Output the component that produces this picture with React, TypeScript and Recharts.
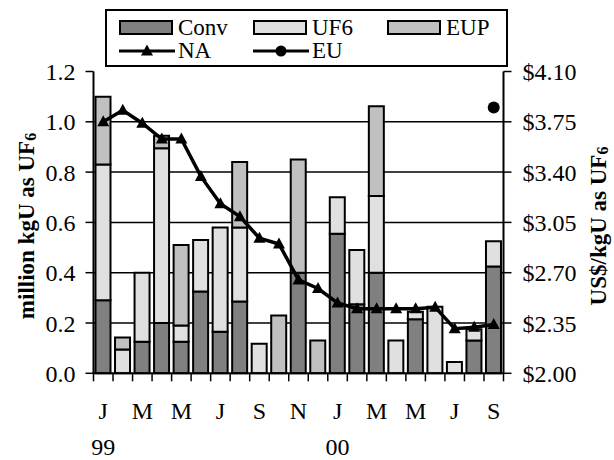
import React from "react";
import { Bar, ComposedChart, Legend, Line, XAxis, YAxis, CartesianGrid } from "recharts";

const categories = [
  "Jan 99", "Feb 99", "Mar 99", "Apr 99", "May 99", "Jun 99", "Jul 99",
  "Aug 99", "Sep 99", "Oct 99", "Nov 99", "Dec 99", "Jan 00", "Feb 00",
  "Mar 00", "Apr 00", "May 00", "Jun 00", "Jul 00", "Aug 00", "Sep 00",
];
const monthLabels = ["J", "", "M", "", "M", "", "J", "", "S", "", "N", "", "J", "", "M", "", "M", "", "J", "", "S"];
const yearLabels = ["99", "", "", "", "", "", "", "", "", "", "", "", "00", "", "", "", "", "", "", "", ""];

// million kgU as UF6
const conv = [0.29, 0, 0.125, 0.2, 0.125, 0.325, 0.165, 0.285, 0, 0, 0.4, 0, 0.555, 0.275, 0.4, 0, 0.215, 0, 0, 0.13, 0.425];
const uf6 = [0.54, 0.095, 0.275, 0.695, 0.065, 0.205, 0.415, 0.295, 0.117, 0, 0, 0, 0.145, 0.215, 0.305, 0.13, 0.03, 0.265, 0.045, 0.045, 0.1];
const eup = [0.27, 0.047, 0, 0.05, 0.32, 0, 0, 0.26, 0, 0.23, 0.45, 0.13, 0, 0, 0.357, 0, 0, 0, 0, 0, 0];

// US$/kgU as UF6
const naPrice = [3.75, 3.83, 3.74, 3.63, 3.63, 3.37, 3.18, 3.09, 2.94, 2.9, 2.65, 2.59, 2.49, 2.45, 2.45, 2.45, 2.45, 2.46, 2.31, 2.32, 2.34];
const euPrice = [null, null, null, null, null, null, null, null, null, null, null, null, null, null, null, null, null, null, null, null, 3.85];

const volumeTicks = [0, 0.2, 0.4, 0.6, 0.8, 1.0, 1.2];
const priceTicks = [2.0, 2.35, 2.7, 3.05, 3.4, 3.75, 4.1];
const gridValues = [0.2, 0.4, 0.6, 0.8, 1.0];
const legendOrder = ["conv", "uf6", "eup", "na", "eu"];

const data = categories.map((name, i) => ({
  name,
  conv: conv[i],
  uf6: uf6[i],
  eup: eup[i],
  na: naPrice[i],
  eu: euPrice[i],
}));

const FONT = "Liberation Serif, Times New Roman, serif";
const barKeys = ["conv", "uf6", "eup"];

// plot area: 93.5 .. 503.5 horizontally
const PLOT_WIDTH = 614 - 93.5 - 110.5;
const HALF_BAND = PLOT_WIDTH / categories.length / 2;

function TriangleDot(props: any) {
  const { cx, cy } = props;
  if (cx == null || cy == null) return null;
  return (
    <polygon
      points={`${cx},${cy - 6.5} ${cx - 6},${cy + 4.5} ${cx + 6},${cy + 4.5}`}
      fill="#000"
    />
  );
}

function MonthTick(props: any) {
  const { x, y, payload } = props;
  const i = payload.index;
  const last = i === categories.length - 1;
  return (
    <g>
      <line x1={x - HALF_BAND} y1={y} x2={x - HALF_BAND} y2={y + 8} stroke="#000" strokeWidth={1.5} />
      {last && (
        <line x1={x + HALF_BAND} y1={y} x2={x + HALF_BAND} y2={y + 8} stroke="#000" strokeWidth={1.5} />
      )}
      <text x={x} y={y + 46} textAnchor="middle" fontFamily={FONT} fontSize={24} fill="#000">
        {monthLabels[i]}
      </text>
      <text x={x} y={y + 82} textAnchor="middle" fontFamily={FONT} fontSize={24} fill="#000">
        {yearLabels[i]}
      </text>
    </g>
  );
}

function AxisTitle({ x, y, text }: { x: number; y: number; text: string }) {
  return (
    <text
      x={x}
      y={y}
      transform={`rotate(-90 ${x} ${y})`}
      textAnchor="middle"
      dominantBaseline="central"
      fontFamily={FONT}
      fontSize={23}
      fontWeight="bold"
      fill="#000"
    >
      {text}
      <tspan fontSize={16} dy={4}>6</tspan>
    </text>
  );
}

function LegendIcon({ entry }: { entry: any }) {
  if (barKeys.includes(entry.dataKey)) {
    return (
      <span
        style={{
          display: "inline-block",
          boxSizing: "border-box",
          width: 54,
          height: 15,
          background: entry.color,
          border: "2px solid #000",
          marginRight: 5,
        }}
      />
    );
  }
  return (
    <svg width={56} height={16} style={{ marginRight: 3 }}>
      <line x1={0} y1={8} x2={56} y2={8} stroke="#000" strokeWidth={3} />
      {entry.dataKey === "na" ? (
        <TriangleDot cx={28} cy={8} />
      ) : (
        <circle cx={28} cy={8} r={5.5} fill="#000" />
      )}
    </svg>
  );
}

function LegendBox(props: any) {
  const payload = [...(props.payload || [])].sort(
    (a: any, b: any) => legendOrder.indexOf(a.dataKey) - legendOrder.indexOf(b.dataKey),
  );
  return (
    <div
      style={{
        boxSizing: "border-box",
        width: 403,
        height: 58,
        border: "2px solid #000",
        padding: "5px 0 0 12px",
        display: "grid",
        gridTemplateColumns: "134px 134px 134px",
        gridAutoRows: "23px",
        fontFamily: FONT,
        fontSize: 23,
        lineHeight: "23px",
        color: "#000",
        background: "#fff",
      }}
    >
      {payload.map((entry: any) => (
        <div key={entry.dataKey} style={{ display: "flex", alignItems: "center", whiteSpace: "nowrap" }}>
          <LegendIcon entry={entry} />
          {entry.value}
        </div>
      ))}
    </div>
  );
}

export default function App() {
  return (
    <div style={{ position: "absolute", left: 0, top: 0, background: "#fff", fontFamily: FONT }}>
      <ComposedChart
        width={614}
        height={460}
        data={data}
        margin={{ top: 71.5, right: 0, bottom: 0, left: 0 }}
      >
        <CartesianGrid
          yAxisId="left"
          horizontal
          vertical={false}
          horizontalValues={gridValues}
          stroke="#000"
          strokeWidth={1.5}
        />
        <XAxis
          dataKey="name"
          interval={0}
          height={86.7}
          tickSize={0}
          tickMargin={0}
          tickLine={false}
          axisLine={{ stroke: "#000", strokeWidth: 2 }}
          tick={<MonthTick />}
        />
        <YAxis
          yAxisId="left"
          width={93.5}
          domain={[0, 1.2]}
          ticks={volumeTicks}
          interval={0}
          tickSize={8}
          tickMargin={10}
          tickFormatter={(v: number) => v.toFixed(1)}
          tick={{ fill: "#000", fontFamily: FONT, fontSize: 24 }}
          tickLine={{ stroke: "#000", strokeWidth: 1.5 }}
          axisLine={{ stroke: "#000", strokeWidth: 2 }}
          label={{ content: () => <AxisTitle x={26} y={226} text="million kgU as UF" /> }}
        />
        <YAxis
          yAxisId="right"
          orientation="right"
          width={110.5}
          domain={[2, 4.1]}
          ticks={priceTicks}
          interval={0}
          tickSize={8}
          tickMargin={11}
          tickFormatter={(v: number) => `$${v.toFixed(2)}`}
          tick={{ fill: "#000", fontFamily: FONT, fontSize: 24 }}
          tickLine={{ stroke: "#000", strokeWidth: 1.5 }}
          axisLine={{ stroke: "#000", strokeWidth: 2 }}
          label={{ content: () => <AxisTitle x={598} y={226} text="US$/kgU as UF" /> }}
        />
        <Legend
          layout="vertical"
          align="center"
          verticalAlign="middle"
          content={<LegendBox />}
          wrapperStyle={{ left: 105, top: 9, width: 403, height: 58 }}
        />
        <Bar yAxisId="left" dataKey="conv" name="Conv" stackId="v" fill="#808080" stroke="#000" strokeWidth={2} barSize={15} isAnimationActive={false} />
        <Bar yAxisId="left" dataKey="uf6" name="UF6" stackId="v" fill="#e0e0e0" stroke="#000" strokeWidth={2} barSize={15} isAnimationActive={false} />
        <Bar yAxisId="left" dataKey="eup" name="EUP" stackId="v" fill="#c0c0c0" stroke="#000" strokeWidth={2} barSize={15} isAnimationActive={false} />
        <Line
          yAxisId="right"
          dataKey="na"
          name="NA"
          stroke="#000"
          strokeWidth={3.5}
          dot={(p: any) => <TriangleDot key={`na-${p.index}`} {...p} />}
          activeDot={false}
          isAnimationActive={false}
        />
        <Line
          yAxisId="right"
          dataKey="eu"
          name="EU"
          stroke="#000"
          strokeWidth={3.5}
          dot={{ r: 6, fill: "#000", stroke: "none" }}
          activeDot={false}
          isAnimationActive={false}
        />
      </ComposedChart>
    </div>
  );
}
